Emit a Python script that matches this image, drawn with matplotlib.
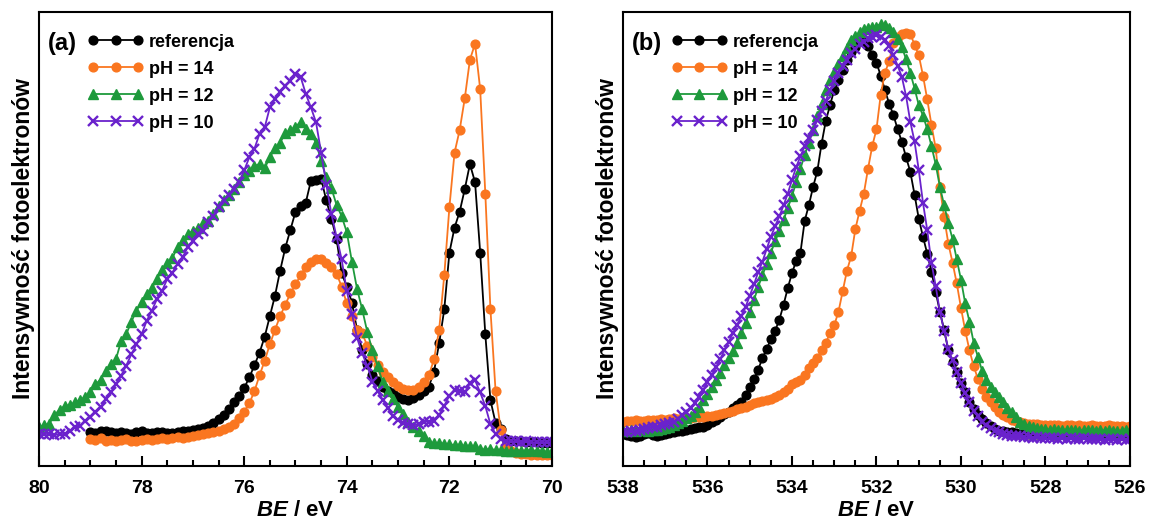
import numpy as np
import matplotlib
matplotlib.use("Agg")
import matplotlib.pyplot as plt
from matplotlib.ticker import MultipleLocator

# Al 2p region, step 0.1 eV, intensity in arbitrary units (0-1000)
AL_REF_START = 79.0
AL_START = 80.0
al_ref = [75, 73, 76, 78, 74, 72, 75, 73, 71, 74,
          76, 73, 72, 74, 75, 73, 72, 74, 76, 78,
          80, 82, 84, 88, 95, 103, 112, 125, 140, 155,
          172, 195, 222, 250, 285, 330, 375, 430, 480, 520,
          560, 572, 580, 628, 630, 633, 585, 545, 500, 425,
          395, 360, 300, 255, 225, 200, 188, 175, 166, 160,
          153, 148, 145, 150, 156, 165, 175, 208, 270, 345,
          470, 525, 560, 610, 665, 625, 470, 290, 145, 95,
          82, 60, 56, 55, 54, 53, 53, 52, 51, 50,
          50]
al_ph14 = [60, 58, 61, 56, 58, 55, 57, 59, 56, 55,
           58, 60, 57, 59, 62, 60, 61, 63, 62, 64,
           66, 68, 70, 72, 74, 77, 82, 87, 93, 105,
           120, 138, 165, 200, 232, 268, 300, 330, 355, 380,
           400, 420, 438, 450, 456, 456, 448, 438, 424, 395,
           358, 330, 300, 292, 265, 240, 222, 208, 195, 186,
           176, 170, 167, 168, 175, 185, 200, 235, 300, 420,
           570, 690, 740, 810, 895, 930, 830, 600, 345, 165,
           80, 42, 33, 29, 27, 26, 25, 25, 24, 24,
           24]
al_ph12 = [85, 90, 93, 112, 124, 132, 134, 140, 145, 152,
           163, 180, 190, 210, 225, 235, 275, 290, 318, 342,
           362, 378, 392, 412, 432, 448, 458, 482, 498, 510,
           518, 524, 535, 540, 556, 572, 585, 598, 610, 626,
           642, 650, 660, 666, 656, 680, 700, 712, 733, 740,
           747, 758, 742, 732, 712, 672, 636, 612, 575, 550,
           515, 450, 390, 345, 295, 255, 220, 185, 165, 147,
           130, 115, 98, 86, 76, 65, 53, 50, 51, 49,
           48, 46, 47, 44, 45, 43, 37, 36, 38, 35,
           36, 34, 33, 32, 33, 34, 35, 33, 32, 31,
           32]
al_ph10 = [70, 71, 70, 68, 71, 70, 77, 85, 88, 99,
           107, 118, 129, 147, 162, 180, 199, 221, 246, 268,
           290, 320, 342, 368, 386, 412, 426, 445, 460, 482,
           496, 511, 518, 537, 551, 570, 585, 596, 610, 625,
           651, 680, 699, 732, 746, 790, 809, 824, 838, 849,
           864, 857, 820, 790, 757, 690, 620, 555, 505, 455,
           385, 335, 282, 248, 220, 186, 165, 146, 128, 110,
           101, 95, 92, 90, 93, 97, 98, 100, 112, 133,
           155, 168, 165, 162, 182, 189, 162, 132, 92, 70,
           60, 56, 54, 55, 53, 54, 52, 53, 52, 53,
           52]

# O 1s region, 538.0 -> 526.0 eV, step 0.1 eV
O_START = 538.0
o_ref = [70, 68, 66, 64, 67, 70, 72, 69, 67, 68,
         70, 73, 75, 76, 78, 80, 81, 83, 85, 87,
         91, 96, 102, 108, 114, 120, 127, 134, 142, 156,
         175, 192, 212, 238, 257, 280, 298, 322, 355, 392,
         425, 452, 470, 540, 575, 615, 650, 710, 760, 795,
         828, 850, 872, 895, 912, 924, 937, 935, 925, 905,
         888, 860, 828, 798, 773, 742, 714, 680, 648, 598,
         545, 505, 468, 428, 384, 340, 300, 255, 230, 208,
         183, 162, 140, 126, 113, 104, 95, 88, 82, 78,
         76, 75, 74, 73, 72, 72, 71, 72, 71, 70,
         70, 70, 69, 70, 71, 69, 70, 68, 69, 70,
         69, 68, 70, 69, 68, 69, 70, 68, 69, 68,
         69]
o_ph14 = [98, 100, 99, 101, 100, 99, 101, 102, 101, 103,
          102, 104, 105, 104, 105, 106, 105, 107, 108, 109,
          110, 111, 113, 115, 117, 120, 122, 125, 128, 131,
          135, 138, 140, 143, 146, 148, 152, 157, 162, 170,
          180, 184, 190, 200, 215, 226, 238, 255, 272, 292,
          310, 340, 385, 430, 462, 522, 562, 600, 655, 705,
          742, 818, 866, 892, 932, 945, 951, 954, 952, 928,
          905, 860, 808, 752, 700, 615, 548, 490, 448, 402,
          348, 298, 255, 220, 192, 170, 153, 142, 130, 120,
          113, 107, 102, 99, 96, 94, 93, 93, 92, 91,
          91, 90, 91, 90, 89, 91, 90, 89, 90, 88,
          89, 90, 88, 89, 88, 90, 89, 88, 89, 87,
          88]
o_ph12 = [78, 77, 79, 78, 79, 80, 78, 79, 80, 81,
          83, 86, 90, 95, 100, 105, 110, 120, 130, 145,
          158, 175, 190, 205, 222, 238, 254, 272, 292, 315,
          340, 365, 395, 420, 445, 470, 495, 518, 542, 568,
          595, 625, 655, 685, 712, 740, 770, 798, 828, 850,
          868, 885, 902, 920, 938, 948, 955, 962, 965, 967,
          968, 974, 972, 965, 955, 940, 923, 896, 866, 832,
          795, 772, 742, 705, 665, 615, 575, 535, 500, 455,
          410, 358, 318, 272, 240, 210, 190, 175, 162, 153,
          140, 128, 118, 108, 98, 92, 88, 85, 83, 82,
          81, 80, 81, 79, 80, 80, 79, 80, 78, 79,
          80, 79, 78, 79, 78, 79, 78, 77, 78, 79,
          78]
o_ph10 = [74, 75, 76, 77, 80, 82, 84, 86, 87, 90,
          93, 95, 98, 104, 112, 120, 128, 138, 152, 168,
          185, 200, 217, 235, 255, 273, 292, 311, 330, 350,
          375, 400, 427, 450, 478, 505, 528, 550, 574, 600,
          630, 659, 682, 705, 722, 740, 762, 782, 805, 828,
          848, 866, 880, 895, 910, 918, 929, 935, 942, 945,
          949, 946, 938, 925, 905, 882, 857, 815, 758, 715,
          652, 580, 520, 448, 397, 340, 298, 258, 233, 207,
          182, 160, 140, 122, 110, 98, 90, 84, 78, 74,
          71, 69, 67, 66, 65, 64, 63, 62, 63, 62,
          61, 61, 62, 60, 61, 60, 61, 59, 60, 61,
          60, 59, 60, 59, 58, 60, 59, 58, 59, 58,
          59]

LABELS = ["referencja", "pH = 14", "pH = 12", "pH = 10"]
COLORS = ["#000000", "#FA7620", "#1E9A3C", "#6A22CC"]
MARKERS = ["o", "o", "^", "x"]

plt.rcParams.update({
    "font.family": ["Liberation Sans", "DejaVu Sans"],
    "font.weight": "bold",
    "mathtext.fontset": "custom",
    "mathtext.it": "Liberation Sans:italic:bold",
    "mathtext.rm": "Liberation Sans:bold",
    "axes.linewidth": 1.5,
})


def draw_panel(ax, starts, series, xlim, major, tag):
    for start, ys, label, color, marker in zip(starts, series, LABELS, COLORS, MARKERS):
        x = start - 0.1 * np.arange(len(ys))
        if marker == "x":
            ax.plot(x, ys, color=color, lw=1.3, marker="x", ms=6.5, mew=1.7, label=label)
        elif marker == "^":
            ax.plot(x, ys, color=color, lw=1.3, marker="^", ms=6.5, mec=color, label=label)
        else:
            ax.plot(x, ys, color=color, lw=1.3, marker="o", ms=6.3, mec=color, label=label)

    ax.set_xlim(xlim)
    ax.set_ylim(0, 1000)
    ax.set_yticks([])
    ax.xaxis.set_major_locator(MultipleLocator(major))
    ax.xaxis.set_minor_locator(MultipleLocator(0.5))
    ax.tick_params(axis="x", which="major", direction="in", length=7, width=1.5,
                   labelsize=14, pad=10)
    ax.tick_params(axis="x", which="minor", direction="in", length=4, width=1.5)
    for lab in ax.get_xticklabels():
        lab.set_fontweight("bold")

    ax.set_xlabel(r"$BE$ / eV", fontsize=16, fontweight="bold", labelpad=2)
    ax.set_ylabel("Intensywność fotoelektronów", fontsize=16.5, fontweight="bold",
                  labelpad=3)

    ax.text(0.018, 0.93, tag, transform=ax.transAxes, fontsize=17,
            fontweight="bold", va="center", ha="left")
    ax.legend(loc="upper left", bbox_to_anchor=(0.095, 0.952), frameon=False,
              numpoints=3, handlelength=3.1, handletextpad=0.3, labelspacing=0.55,
              borderpad=0, borderaxespad=0, prop={"weight": "bold", "size": 13})


fig = plt.figure(figsize=(11.49, 5.26), dpi=100)
ax_a = fig.add_axes([39 / 1149, 60 / 526, 513 / 1149, 454 / 526])
ax_b = fig.add_axes([623 / 1149, 60 / 526, 507 / 1149, 454 / 526])

draw_panel(ax_a, [AL_REF_START, AL_REF_START, AL_START, AL_START],
           [al_ref, al_ph14, al_ph12, al_ph10], (80, 70), 2, "(a)")
draw_panel(ax_b, [O_START] * 4, [o_ref, o_ph14, o_ph12, o_ph10],
           (538, 526), 2, "(b)")

fig.savefig("out.png", dpi=100)
